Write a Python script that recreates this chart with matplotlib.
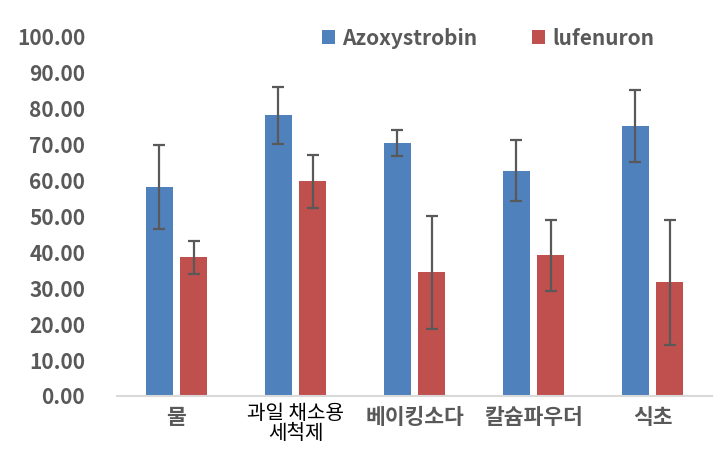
import numpy as np
import matplotlib
matplotlib.use("Agg")
import matplotlib.pyplot as plt

plt.rcParams["font.family"] = ["Noto Sans CJK KR", "DejaVu Sans"]

# ── data ──────────────────────────────────────────────────
categories = ["물", "과일 채소용\n세척제", "베이킹소다", "칼슘파우더", "식초"]
azoxy_mean = [58.3, 78.2, 70.4, 62.8, 75.2]
azoxy_err = [11.7, 8.0, 3.6, 8.4, 10.0]
lufen_mean = [38.6, 59.8, 34.4, 39.2, 31.7]
lufen_err = [4.7, 7.3, 15.8, 9.9, 17.4]

BLUE = "#4F81BD"
RED = "#C0504D"
GREY = "#595959"

fig = plt.figure(figsize=(7.2, 4.55), dpi=100)
ax = fig.add_axes([0.1625, 0.1297, 0.8265, 0.789])

x = np.arange(len(categories))
w = 0.224
off = 0.145
err_kw = dict(ecolor=GREY, elinewidth=1.6, capsize=4.5, capthick=1.6)
ax.bar(x - off, azoxy_mean, w, yerr=azoxy_err, color=BLUE, label="Azoxystrobin",
       error_kw=err_kw, zorder=2)
ax.bar(x + off, lufen_mean, w, yerr=lufen_err, color=RED, label="lufenuron",
       error_kw=err_kw, zorder=2)

ax.set_xlim(-0.5, len(categories) - 0.5)
ax.set_ylim(0, 100)
ax.set_yticks(np.arange(0, 101, 10))
ax.set_yticklabels([f"{v:.2f}" for v in np.arange(0, 101, 10)],
                   fontsize=15, fontweight="bold", color=GREY)
ax.set_xticks(x)
ax.set_xticklabels(categories, linespacing=0.95)
for i, t in enumerate(ax.get_xticklabels()):
    if "\n" in categories[i]:
        t.set_fontsize(14.5)
        t.set_color("black")
    else:
        t.set_fontsize(15.5)
        t.set_fontweight("bold")
        t.set_color(GREY)
        t.set_y(-0.012)
ax.tick_params(axis="both", length=0)
ax.tick_params(axis="y", pad=23)
ax.tick_params(axis="x", pad=5)

for s in ["top", "right", "left"]:
    ax.spines[s].set_visible(False)
ax.spines["bottom"].set_color("#D9D9D9")
ax.spines["bottom"].set_linewidth(1.5)

leg = ax.legend(loc="center left", bbox_to_anchor=(0.345, 0.997), ncol=2, frameon=False,
                prop={"size": 15, "weight": "bold"}, handlelength=0.63, handleheight=0.63,
                columnspacing=2.6, handletextpad=0.34, borderpad=0, borderaxespad=0)
for t in leg.get_texts():
    t.set_color(GREY)

fig.savefig("out.png", dpi=100)
